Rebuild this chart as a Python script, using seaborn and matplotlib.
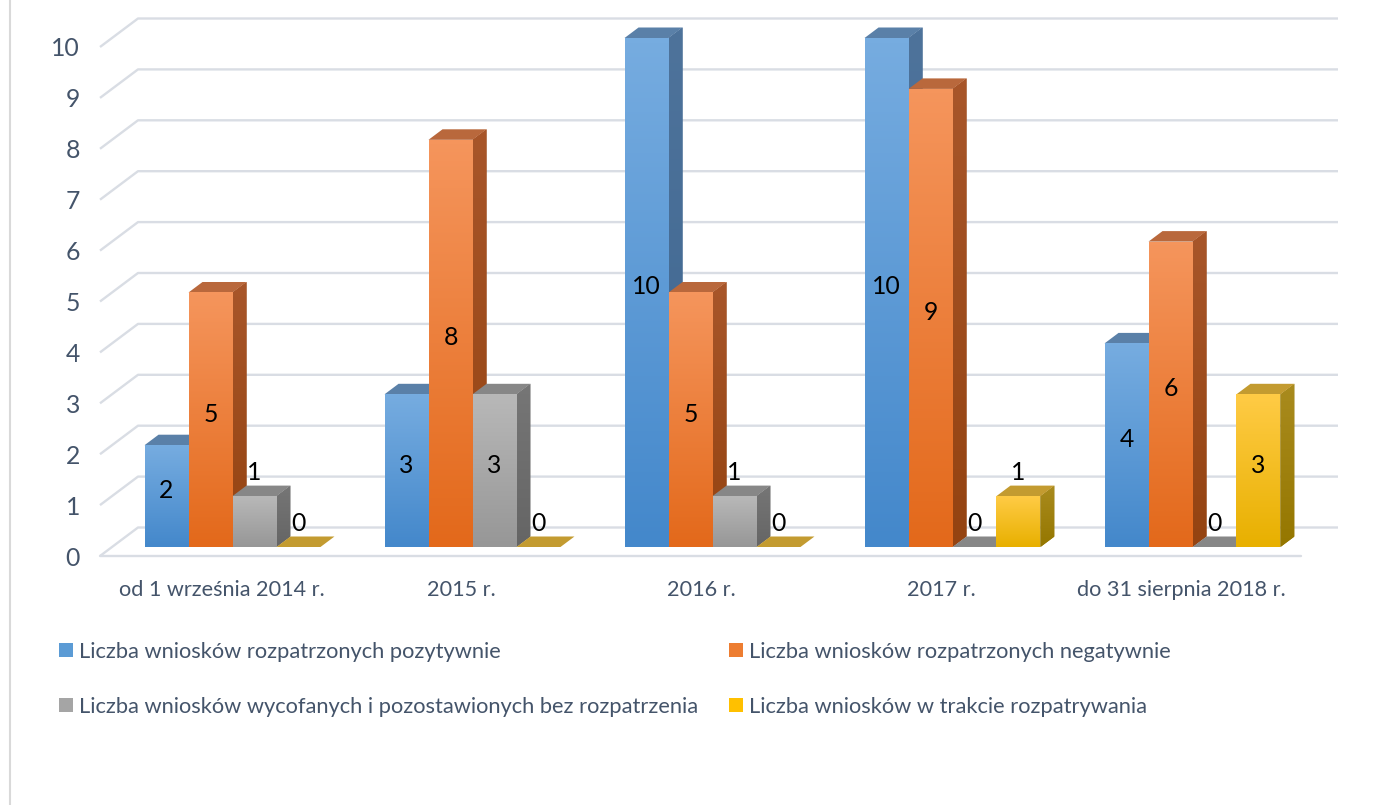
import matplotlib
matplotlib.use("Agg")
import numpy as np
import pandas as pd
import seaborn as sns
import matplotlib.pyplot as plt
from matplotlib.patches import Polygon, Rectangle
from matplotlib.lines import Line2D
from matplotlib.colors import LinearSegmentedColormap

# ---------------- data ----------------
categories = ["od 1 września 2014 r.", "2015 r.", "2016 r.", "2017 r.", "do 31 sierpnia 2018 r."]
series_names = [
    "Liczba wniosków rozpatrzonych pozytywnie",
    "Liczba wniosków rozpatrzonych negatywnie",
    "Liczba wniosków wycofanych i pozostawionych bez rozpatrzenia",
    "Liczba wniosków w trakcie rozpatrywania",
]
positive = [2, 3, 10, 10, 4]
negative = [5, 8, 5, 9, 6]
withdrawn = [1, 3, 1, 0, 0]
pending = [0, 0, 0, 1, 3]
y_ticks = [0, 1, 2, 3, 4, 5, 6, 7, 8, 9, 10]

# ---------------- styles ----------------
front_top = ["#76ACE0", "#F5955C", "#B8B8B8", "#FFCB45"]
front_bot = ["#4488CB", "#E3691B", "#979797", "#E8B000"]
side_top = ["#4E739B", "#A8562A", "#767676", "#A98B1E"]
side_bot = ["#3E6690", "#944311", "#656565", "#957700"]
top_col = ["#5A80A8", "#B9683C", "#878787", "#C39B30"]
legend_col = ["#5B9BD5", "#ED7D31", "#A5A5A5", "#FFC000"]
text_col = "#44546A"
grid_col = "#D9DDE4"

values = [positive, negative, withdrawn, pending]
rows = []
for name, vals in zip(series_names, values):
    for cat, v in zip(categories, vals):
        rows.append({"category": cat, "series": name, "value": v})
df = pd.DataFrame(rows)

sns.set_theme(style="white")
plt.rcParams["font.family"] = ["Lato", "DejaVu Sans"]

W, H = 1387, 805
fig = plt.figure(figsize=(W / 100, H / 100), dpi=100)
ax = fig.add_axes([0, 0, 1, 1])

PX_CAT = 240.0
PX_UNIT = 50.9
X0 = 232.5
Y0 = 547.0


def px2x(px):
    return (px - X0) / PX_CAT


def px2y(py):
    return (Y0 - py) / PX_UNIT


DX = 14 / PX_CAT
DY = 10.5 / PX_UNIT

xlim = (px2x(0), px2x(W))
ylim = (px2y(H), px2y(0))

# font size fit
probe = fig.text(0, 0, series_names[2], fontsize=15)
fig.canvas.draw()
pw = probe.get_window_extent().width
probe.remove()
FS = 15 * 621 / pw
FS_NUM = FS * 1.13
FS_CAT = FS * 0.99

# gridlines (3D wall/floor)
for v in y_ticks:
    yb = v + 19.5 / PX_UNIT
    yf = v - 9 / PX_UNIT
    ax.plot([px2x(100), px2x(138), px2x(1338)], [yf, yb, yb], color=grid_col, lw=1.7, zorder=0,
            solid_capstyle="butt")
ax.plot([px2x(100), px2x(1301)], [-9 / PX_UNIT] * 2, color=grid_col, lw=1.7, zorder=0)

# y tick labels
for v in y_ticks:
    ax.text(px2x(80), v - 9 / PX_UNIT, str(v), ha="right", va="center_baseline", fontsize=FS_NUM,
            color=text_col)

# bars
sns.barplot(data=df, x="category", y="value", hue="series", hue_order=series_names,
            order=categories, palette=front_bot, width=0.733, saturation=1, linewidth=0,
            legend=False, ax=ax)


def grad_fill(patch, c1, c2, extent, z):
    cmap = LinearSegmentedColormap.from_list("g", [c2, c1])
    g = np.linspace(0, 1, 64).reshape(-1, 1)
    im = ax.imshow(g, cmap=cmap, extent=extent, origin="lower", aspect="auto", zorder=z,
                   interpolation="bilinear")
    im.set_clip_path(patch)


bars = []
for si, cont in enumerate(ax.containers):
    for b in cont:
        bars.append((b.get_x(), si, b))
bars.sort(key=lambda t: t[0])

for k, (x, si, b) in enumerate(bars):
    w = b.get_width()
    h = b.get_height()
    z = 2 + k
    b.set_zorder(z + 0.5)
    b.set_facecolor(front_bot[si])
    # side
    side = Polygon([(x + w, 0), (x + w + DX, DY), (x + w + DX, h + DY), (x + w, h)], closed=True,
                   facecolor=side_bot[si], edgecolor="none", zorder=z)
    ax.add_patch(side)
    if h > 0:
        grad_fill(side, side_top[si], side_bot[si], [x + w, x + w + DX, 0, h + DY], z + 0.1)
    # top
    top = Polygon([(x, h), (x + DX, h + DY), (x + w + DX, h + DY), (x + w, h)], closed=True,
                  facecolor=top_col[si], edgecolor="none", zorder=z + 0.2)
    ax.add_patch(top)
    # front gradient
    if h > 0:
        grad_fill(b, front_top[si], front_bot[si], [x, x + w, 0, h], z + 0.6)
    # data label
    ly = h / 2 + 0.15 if h >= 2 else h + 0.5
    ax.text(x + w / 2, ly, f"{h:g}", ha="center", va="center_baseline", fontsize=FS_NUM,
            color="black", zorder=100)

# category labels
for i, cat in enumerate(categories):
    ax.text(i - 11 / PX_CAT, px2y(588), cat, ha="center", va="center_baseline", fontsize=FS_CAT,
            color=text_col)

# legend
leg_pos = [(59, 650), (729, 650), (59, 705), (729, 705)]
for si, (lx, ly) in enumerate(leg_pos):
    fig.patches.append(Rectangle((lx / W, 1 - (ly + 7) / H), 14 / W, 14 / H, transform=fig.transFigure,
                                 facecolor=legend_col[si], edgecolor="none"))
    fig.text((lx + 20) / W, 1 - ly / H, series_names[si], ha="left", va="center_baseline",
             fontsize=FS, color=text_col)

# chart border
fig.add_artist(Line2D([10 / W, 10 / W], [0, 1], transform=fig.transFigure, color="#D9D9D9", lw=1.5))

ax.set_xlim(*xlim)
ax.set_ylim(*ylim)
ax.axis("off")
fig.savefig("out.png", dpi=100, facecolor="white")
